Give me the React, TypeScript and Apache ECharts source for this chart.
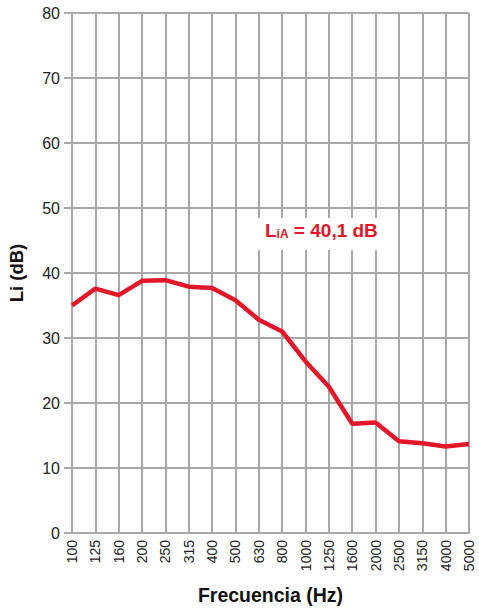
import React, { useEffect, useRef } from "react";
import * as echarts from "echarts";

const categories = ["100", "125", "160", "200", "250", "315", "400", "500", "630", "800", "1000", "1250", "1600", "2000", "2500", "3150", "4000", "5000"];
const liValues = [35.0, 37.6, 36.6, 38.8, 38.9, 37.9, 37.7, 35.8, 32.8, 31.0, 26.4, 22.5, 16.8, 17.0, 14.1, 13.8, 13.3, 13.7];
const yTicks = { min: 0, max: 80, interval: 10 };
const annotationMain = "L";
const annotationSub = "iA";
const annotationRest = " = 40,1 dB";

const FONT = "'Liberation Sans Narrow', 'Arial Narrow', Arial, sans-serif";
const GRID_COLOR = "#a8a8a8";
const RED = "#e2172a";

export default function App() {
  const ref = useRef<HTMLDivElement>(null);
  useEffect(() => {
    if (!ref.current) return;
    const chart = echarts.init(ref.current, undefined, { renderer: "svg" });
    chart.setOption({
      animation: false,
      grid: { left: 72, right: 10, top: 13, bottom: 75, containLabel: false, outerBoundsMode: "none" },
      xAxis: {
        type: "category",
        data: categories,
        boundaryGap: false,
        name: "Frecuencia (Hz)",
        nameLocation: "middle",
        nameGap: 52,
        nameTextStyle: { fontFamily: "Arial, sans-serif", fontWeight: "bold", fontSize: 19.5, color: "#111" },
        axisLine: { show: true, lineStyle: { color: GRID_COLOR, width: 2 } },
        axisTick: { show: false },
        axisLabel: { rotate: 90, interval: 0, margin: 7, fontFamily: FONT, fontSize: 14, color: "#222" },
        splitLine: { show: true, interval: 0, lineStyle: { color: GRID_COLOR, width: 2 } },
      },
      yAxis: {
        type: "value",
        min: yTicks.min,
        max: yTicks.max,
        interval: yTicks.interval,
        name: "Li (dB)",
        nameLocation: "middle",
        nameGap: 46,
        nameRotate: 90,
        nameTextStyle: { fontFamily: "Arial, sans-serif", fontWeight: "bold", fontSize: 18.5, color: "#111" },
        axisLine: { show: true, lineStyle: { color: GRID_COLOR, width: 2 } },
        axisTick: { show: true, length: 8, lineStyle: { color: GRID_COLOR, width: 2 } },
        axisLabel: { margin: 12, fontFamily: FONT, fontSize: 16, color: "#222" },
        splitLine: { show: true, lineStyle: { color: GRID_COLOR, width: 2 } },
      },
      series: [
        {
          type: "line",
          data: liValues,
          symbol: "none",
          lineStyle: { color: RED, width: 4.5 },
          z: 5,
        },
      ],
      graphic: [
        {
          type: "rect",
          left: 252,
          top: 218,
          shape: { width: 125, height: 32 },
          style: { fill: "#fff" },
          z: 10,
        },
        {
          type: "text",
          left: 265,
          top: 221,
          z: 11,
          style: {
            text: `{a|${annotationMain}}{b|${annotationSub}}{a|${annotationRest}}`,
            rich: {
              a: { fontFamily: FONT, fontWeight: "bold", fontSize: 19, fill: RED, verticalAlign: "bottom" },
              b: { fontFamily: FONT, fontWeight: "bold", fontSize: 12, fill: RED, padding: [10, 0, 0, 0] },
            },
          },
        },
      ],
    });
    return () => chart.dispose();
  }, []);
  return <div ref={ref} style={{ position: "absolute", left: 0, top: 0, width: 479, height: 608 }} />;
}
